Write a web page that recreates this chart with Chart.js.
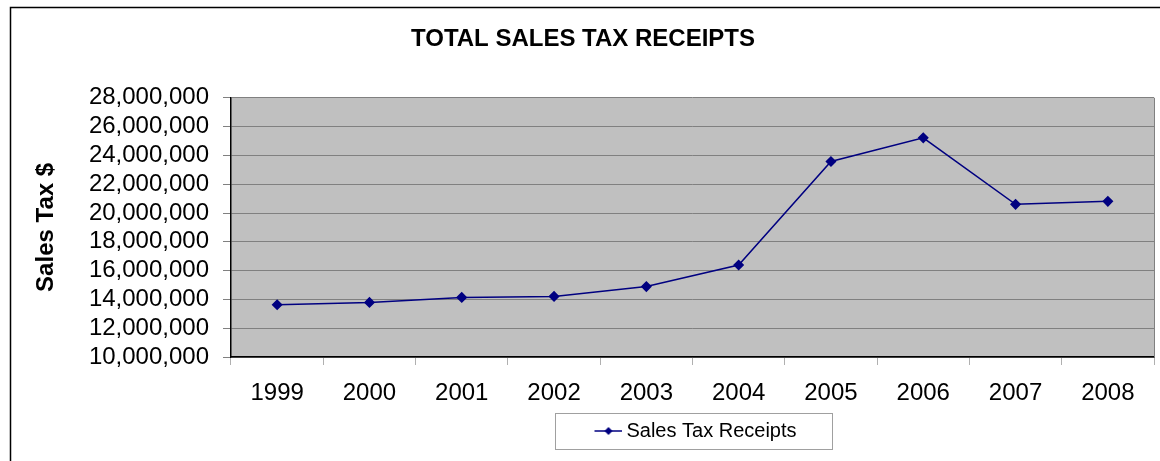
<!DOCTYPE html>
<html>
<head>
<meta charset="utf-8">
<script src="https://cdn.jsdelivr.net/npm/chart.js@4/dist/chart.umd.min.js"></script>
<style>
  html, body { margin: 0; padding: 0; background: #fff; }
  #wrap { width: 1160px; height: 461px; }
</style>
</head>
<body>
<div id="wrap"><canvas id="chart" width="1160" height="461"></canvas></div>
<script>
// values
const years = ['1999', '2000', '2001', '2002', '2003', '2004', '2005', '2006', '2007', '2008']
const receipts = [13630000, 13790000, 14140000, 14210000, 14890000, 16390000, 23580000, 25220000, 20600000, 20810000]
const yMin = 10000000
const yMax = 28000000
const yStep = 2000000

const NAVY = '#000080'
const FONT = "'Liberation Sans', Arial, sans-serif"

// little line + diamond used in the legend
const mark = document.createElement('canvas')
mark.width = 40
mark.height = 12
const m = mark.getContext('2d')
m.strokeStyle = NAVY
m.lineWidth = 1.5
m.beginPath()
m.moveTo(12, 6)
m.lineTo(40, 6)
m.stroke()
m.fillStyle = NAVY
m.beginPath()
m.moveTo(26, 2); m.lineTo(30, 6); m.lineTo(26, 10); m.lineTo(22, 6)
m.closePath()
m.fill()

const frame = {
  id: 'frame',
  beforeDraw(chart) {
    const { ctx, chartArea: a } = chart
    ctx.save()
    ctx.fillStyle = '#fff'
    ctx.fillRect(0, 0, chart.width, chart.height)
    ctx.fillStyle = '#C0C0C0'
    ctx.fillRect(a.left, a.top, a.right - a.left, a.bottom - a.top)
    ctx.restore()
  },
  afterDraw(chart) {
    const { ctx, chartArea: a } = chart
    ctx.save()
    // right edge of the plot
    ctx.strokeStyle = '#808080'
    ctx.lineWidth = 1
    ctx.beginPath()
    ctx.moveTo(a.right + 0.5, a.top)
    ctx.lineTo(a.right + 0.5, a.bottom)
    ctx.stroke()
    // outer frame
    ctx.strokeStyle = '#000'
    ctx.lineWidth = 1.5
    ctx.strokeRect(10.5, 7.5, 1170, 480)
    // legend box
    const hb = chart.legend.legendHitBoxes[0]
    if (hb) {
      ctx.strokeStyle = '#a0a0a0'
      ctx.lineWidth = 1
      ctx.strokeRect(Math.round(hb.left - 33) + 0.5, Math.round(hb.top + hb.height / 2 - 18) + 0.5, Math.round(hb.width + 69), 36)
    }
    ctx.restore()
  }
}

new Chart(document.getElementById('chart'), {
  type: 'line',
  data: {
    labels: years,
    datasets: [{
      label: 'Sales Tax Receipts',
      data: receipts,
      borderColor: NAVY,
      backgroundColor: NAVY,
      borderWidth: 1.5,
      pointStyle: 'rectRot',
      pointRadius: 4.5,
      pointHoverRadius: 4.5,
      tension: 0
    }]
  },
  options: {
    responsive: false,
    animation: false,
    devicePixelRatio: 1,
    layout: { padding: { left: 10, right: 4, top: 0, bottom: 10 } },
    plugins: {
      title: {
        display: true,
        text: 'TOTAL SALES TAX RECEIPTS',
        color: '#000',
        font: { family: FONT, size: 24, weight: 'bold' },
        padding: { top: 25, bottom: 44 }
      },
      legend: {
        position: 'bottom',
        fullSize: false,
        labels: {
          usePointStyle: true,
          pointStyleWidth: 28,
          color: '#000',
          font: { family: FONT, size: 20 },
          padding: 8,
          generateLabels: () => [{
            text: 'Sales Tax Receipts',
            pointStyle: mark,
            fillStyle: NAVY,
            strokeStyle: NAVY,
            lineWidth: 0,
            datasetIndex: 0
          }]
        }
      },
      tooltip: { enabled: false }
    },
    scales: {
      x: {
        offset: true,
        grid: { offset: true, drawOnChartArea: false, tickLength: 8, tickColor: '#b0b0b0' },
        border: { color: '#000', width: 1.5 },
        ticks: { color: '#000', font: { family: FONT, size: 24 }, padding: 14, maxRotation: 0, autoSkip: false },
        afterFit(s) { s.height = 56 }
      },
      y: {
        min: yMin,
        max: yMax,
        grid: { color: '#808080', tickColor: '#808080', tickLength: 8 },
        border: { color: '#000', width: 1.5 },
        ticks: {
          stepSize: yStep,
          autoSkip: false,
          color: '#000',
          padding: 14,
          font: { family: FONT, size: 24 },
          callback: v => v.toLocaleString('en-US')
        },
        title: {
          display: true,
          text: 'Sales Tax $',
          color: '#000',
          font: { family: FONT, size: 24, weight: 'bold' },
          padding: { top: 22, bottom: 0 }
        },
        afterFit(s) { s.width = 221 }
      }
    }
  },
  plugins: [frame]
})
</script>
</body>
</html>
